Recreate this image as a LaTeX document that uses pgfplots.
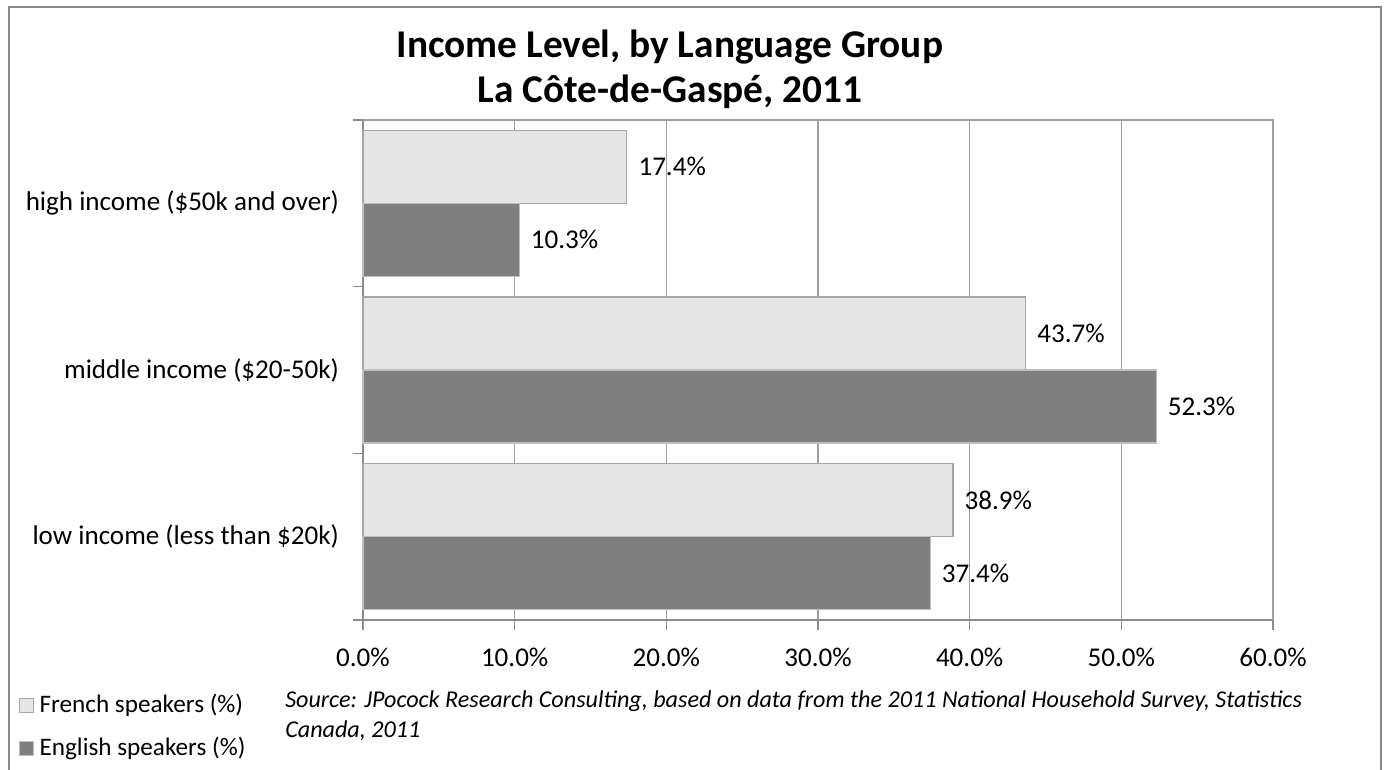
\documentclass[border=0pt]{standalone}
\usepackage{pgfplots}
\pgfplotsset{compat=1.18}
\usepackage{fontspec}
\setmainfont{Carlito}
\definecolor{frfill}{HTML}{E6E6E6}
\definecolor{frdraw}{HTML}{A6A6A6}
\definecolor{enfill}{HTML}{7F7F7F}
\definecolor{endraw}{HTML}{BFBFBF}
\definecolor{axgray}{HTML}{8C8C8C}
\definecolor{gridgray}{HTML}{A0A0A0}
\definecolor{framegray}{HTML}{8A8A8A}
\begin{document}
\begin{tikzpicture}
\path[use as bounding box] (0,0) rectangle (1040.25pt,577.5pt);
\draw[framegray,line width=2.2pt] (6.75pt,-5pt) -- (6.75pt,572.25pt) -- (1035.75pt,572.25pt) -- (1035.75pt,-5pt);
\begin{axis}[
  at={(272.25pt,112.5pt)}, anchor=south west,
  scale only axis, width=682.5pt, height=375pt,
  xbar, y dir=reverse,
  xmin=0, xmax=60, ymin=-0.5, ymax=2.5,
  bar width=0.438,
  axis line style={axgray, line width=0.9pt},
  axis x line*=bottom, axis y line*=left,
  every outer x axis line/.append style={-},
  every outer y axis line/.append style={-},
  xtick={0,10,...,60},
  xticklabels={0.0\%,10.0\%,20.0\%,30.0\%,40.0\%,50.0\%,60.0\%},
  xmajorgrids, grid style={gridgray, line width=0.9pt},
  x tick label style={font=\fontsize{20.3}{22}\selectfont, yshift=-10pt},
  xtick style={axgray, line width=0.9pt},
  xtick align=outside, major tick length=7.5pt,
  ytick={0,1,2},
  yticklabels={high income (\$50k and over), middle income (\$20-50k), low income (less than \$20k)},
  y tick label style={font=\fontsize{20.3}{22}\selectfont, xshift=-7pt},
  ytick style={draw=none},
  extra y ticks={-0.5,0.5,1.5,2.5},
  extra y tick labels={},
  extra y tick style={ytick style={axgray, line width=0.9pt, draw=axgray}, tick align=outside, major tick length=7.5pt, grid=none},
  /pgf/number format/assume math mode=true,
  nodes near coords={\pgfmathprintnumber[fixed,fixed zerofill,precision=1]{\pgfplotspointmeta}\%},
  every node near coord/.append style={font=\fontsize{20.3}{22}\selectfont, anchor=west, xshift=5pt},
  clip=false,
]
\addplot[fill=frfill, draw=frdraw, line width=0.8pt, bar shift=-0.219] coordinates {(17.4,0) (43.7,1) (38.9,2)};
\addplot[fill=enfill, draw=endraw, line width=0.8pt, bar shift=0.219] coordinates {(10.3,0) (52.3,1) (37.4,2)};
\draw[gridgray, line width=0.9pt] (axis cs:0,-0.5) -- (axis cs:60,-0.5) -- (axis cs:60,2.5);
\end{axis}
\node[font=\fontsize{29.5}{33}\selectfont\bfseries, align=center] at (502.5pt,525.75pt) {Income Level, by Language Group\\[1pt] La Côte-de-Gaspé, 2011};
\node[font=\fontsize{18.1}{20}\selectfont\itshape, anchor=north west, align=left, inner sep=0pt] at (213.75pt,59.5pt) {Source: JPocock Research Consulting, based on data from the 2011 National Household Survey, Statistics\\[2pt] Canada, 2011};
\node[draw=frdraw, fill=frfill, line width=0.6pt, minimum size=10.5pt, inner sep=0pt] at (19.5pt,48.75pt) {};
\node[font=\fontsize{18.9}{20}\selectfont, anchor=west, inner sep=0pt] at (29.5pt,48.75pt) {French speakers (\%)};
\node[draw=endraw, fill=enfill, line width=0.6pt, minimum size=10.5pt, inner sep=0pt] at (19.5pt,16.5pt) {};
\node[font=\fontsize{18.9}{20}\selectfont, anchor=west, inner sep=0pt] at (29.5pt,16.5pt) {English speakers (\%)};
\end{tikzpicture}
\end{document}
